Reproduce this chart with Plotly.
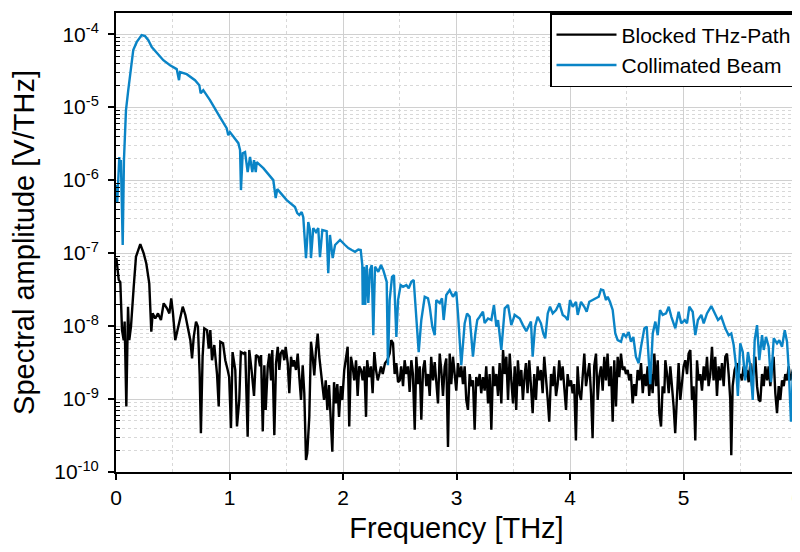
import plotly.graph_objects as go

# ---------------- data ----------------
blocked_freq = [
    0.003, 0.024, 0.038, 0.053, 0.068, 0.076, 0.091, 0.106, 0.117, 0.132,
    0.156, 0.176, 0.214, 0.244, 0.267, 0.293, 0.311, 0.323, 0.346, 0.370,
    0.396, 0.420, 0.449, 0.470, 0.487, 0.502, 0.522, 0.544, 0.567, 0.588,
    0.611, 0.634, 0.655, 0.670, 0.685, 0.705, 0.722, 0.737, 0.748, 0.763,
    0.778, 0.802, 0.817, 0.831, 0.846, 0.866, 0.890, 0.905, 0.919, 0.943,
    0.963, 0.984, 0.997, 1.013, 1.027, 1.051, 1.066, 1.086, 1.100, 1.125,
    1.139, 1.160, 1.174, 1.196, 1.216, 1.233, 1.254, 1.269, 1.278, 1.293,
    1.307, 1.319, 1.337, 1.351, 1.366, 1.377, 1.395, 1.410, 1.425, 1.439,
    1.451, 1.468, 1.483, 1.495, 1.513, 1.527, 1.542, 1.557, 1.568, 1.586,
    1.601, 1.615, 1.630, 1.645, 1.659, 1.674, 1.685, 1.703, 1.718, 1.733,
    1.747, 1.762, 1.777, 1.791, 1.806, 1.821, 1.833, 1.848, 1.862, 1.877,
    1.892, 1.906, 1.921, 1.936, 1.950, 1.965, 1.980, 1.994, 2.011, 2.026,
    2.041, 2.055, 2.070, 2.085, 2.099, 2.115, 2.129, 2.143, 2.159, 2.173,
    2.188, 2.203, 2.213, 2.231, 2.246, 2.261, 2.276, 2.291, 2.306, 2.320,
    2.335, 2.350, 2.370, 2.390, 2.411, 2.425, 2.441, 2.455, 2.470, 2.485,
    2.500, 2.513, 2.529, 2.543, 2.558, 2.573, 2.587, 2.602, 2.616, 2.632,
    2.646, 2.661, 2.676, 2.690, 2.705, 2.720, 2.734, 2.749, 2.764, 2.777,
    2.793, 2.808, 2.822, 2.837, 2.852, 2.866, 2.881, 2.896, 2.910, 2.925,
    2.940, 2.954, 2.969, 2.984, 2.998, 3.013, 3.028, 3.042, 3.057, 3.072,
    3.086, 3.101, 3.116, 3.130, 3.145, 3.160, 3.174, 3.189, 3.204, 3.218,
    3.233, 3.248, 3.262, 3.278, 3.292, 3.307, 3.322, 3.336, 3.351, 3.366,
    3.380, 3.395, 3.410, 3.425, 3.439, 3.454, 3.469, 3.483, 3.498, 3.513,
    3.526, 3.541, 3.557, 3.571, 3.585, 3.601, 3.612, 3.626, 3.641, 3.656,
    3.671, 3.685, 3.700, 3.715, 3.729, 3.744, 3.759, 3.773, 3.789, 3.804,
    3.817, 3.833, 3.848, 3.861, 3.877, 3.891, 3.905, 3.920, 3.935, 3.949,
    3.965, 3.979, 3.993, 4.009, 4.023, 4.037, 4.052, 4.067, 4.082, 4.097,
    4.112, 4.126, 4.141, 4.156, 4.170, 4.185, 4.199, 4.213, 4.229, 4.244,
    4.257, 4.273, 4.288, 4.302, 4.317, 4.331, 4.345, 4.361, 4.376, 4.390,
    4.405, 4.420, 4.434, 4.449, 4.464, 4.478, 4.493, 4.508, 4.522, 4.537,
    4.552, 4.566, 4.581, 4.596, 4.610, 4.626, 4.641, 4.655, 4.670, 4.684,
    4.698, 4.714, 4.728, 4.743, 4.758, 4.773, 4.787, 4.802, 4.816, 4.831,
    4.840, 4.855, 4.870, 4.884, 4.899, 4.913, 4.927, 4.943, 4.957, 4.972,
    4.987, 5.001, 5.016, 5.031, 5.045, 5.060, 5.075, 5.089, 5.104, 5.119,
    5.133, 5.148, 5.163, 5.178, 5.192, 5.207, 5.221, 5.236, 5.251, 5.265,
    5.280, 5.295, 5.309, 5.324, 5.339, 5.354, 5.368, 5.383, 5.398, 5.412,
    5.421, 5.433, 5.450, 5.471, 5.486, 5.500, 5.515, 5.530, 5.544, 5.559,
    5.574, 5.589, 5.604, 5.618, 5.633, 5.648, 5.663, 5.677, 5.692, 5.707,
    5.721, 5.736, 5.750, 5.765, 5.780, 5.794, 5.809, 5.824, 5.839, 5.853,
    5.868, 5.883, 5.897, 5.912, 5.927, 5.941, 5.956, 5.971, 5.985, 6.000,
]
blocked_amp = [
    8.6e-8, 4.3e-8, 4.0e-8, 8.8e-9, 6.4e-9, 1.15e-8, 7.9e-10, 1.84e-8, 6.4e-9, 9.8e-9,
    3.45e-8, 8.9e-8, 1.33e-7, 9.9e-8, 7.2e-8, 3.85e-8, 8.4e-9, 1.49e-8, 1.27e-8, 1.49e-8,
    1.21e-8, 2.05e-8, 1.75e-8, 1.49e-8, 2.4e-8, 1.49e-8, 6.4e-9, 9.3e-9, 1.27e-8, 1.84e-8,
    1.42e-8, 9.8e-9, 6.4e-9, 3.6e-9, 7.1e-9, 1.15e-8, 9.8e-9, 2.2e-9, 3.4e-10, 3.8e-9,
    9.3e-9, 8.8e-9, 4.9e-9, 8.8e-9, 3.4e-9, 5.5e-9, 2.2e-9, 7.9e-10, 6.1e-9, 5.8e-9,
    3.4e-9, 2.5e-9, 2.0e-9, 4.0e-10, 4.4e-9, 2.5e-9, 4.2e-10, 9.7e-10, 4.4e-9, 4.2e-9,
    4.4e-9, 3.05e-10, 4.7e-9, 2.35e-9, 1.1e-9, 4.0e-9, 3.8e-9, 2.8e-9, 4.0e-9, 3.6e-10,
    2.9e-9, 7.1e-10, 2.8e-9, 4.2e-9, 1.8e-9, 4.7e-9, 3.2e-10, 3.1e-9, 5.2e-9, 2.5e-9,
    4.2e-9, 4.7e-9, 3.4e-9, 5.2e-9, 3.1e-9, 1.2e-9, 3.8e-9, 2.8e-9, 3.4e-9, 2.5e-9,
    4.2e-9, 2.0e-9, 9.7e-10, 2.9e-9, 1.2e-9, 1.46e-10, 1.8e-10, 5.7e-10, 6.1e-9, 3.8e-9,
    2.1e-9, 4.7e-9, 7.9e-9, 3.8e-9, 2.2e-9, 1.3e-9, 9.7e-10, 1.8e-9, 7.1e-10, 1.55e-9,
    6.4e-10, 1.9e-10, 1.7e-9, 8.7e-10, 1.6e-9, 5.7e-10, 1.5e-9, 9.7e-10, 2.5e-9, 3.4e-9,
    5.2e-9, 4.2e-10, 3.8e-9, 2.8e-9, 1.8e-9, 3.4e-9, 1.1e-9, 2.8e-9, 2.5e-9, 1.8e-9,
    2.8e-9, 5.7e-10, 3.4e-9, 2.0e-9, 2.8e-9, 1.2e-9, 4.4e-9, 2.5e-9, 1.8e-9, 2.2e-9,
    2.8e-9, 2.2e-9, 3.1e-9, 3.4e-9, 4.2e-9, 6.4e-9, 5.8e-9, 2.2e-9, 3.1e-9, 1.7e-9,
    1.8e-9, 2.8e-9, 1.5e-9, 3.4e-9, 2.2e-9, 2.8e-9, 1.25e-9, 3.4e-9, 2.2e-9, 3.8e-10,
    3.8e-9, 1.6e-9, 2.8e-9, 5.2e-10, 2.5e-9, 3.4e-9, 1.5e-9, 2.2e-9, 1.1e-9, 3.8e-9,
    1.8e-9, 3.2e-9, 1.5e-9, 8.7e-10, 4.2e-9, 2.5e-9, 1.1e-9, 2.8e-9, 3.6e-9, 2.2e-10,
    4.2e-9, 1.6e-9, 3.8e-9, 2.0e-9, 1.3e-9, 3.1e-9, 2.0e-9, 2.8e-9, 1.6e-9, 2.8e-9,
    9.7e-10, 7.1e-10, 2.2e-9, 1.5e-9, 1.8e-9, 3.8e-10, 2.0e-9, 1.5e-9, 2.2e-9, 1.2e-9,
    2.0e-9, 1.3e-9, 2.8e-9, 8.7e-10, 2.2e-9, 3.8e-10, 2.8e-9, 1.5e-9, 2.2e-9, 1.1e-9,
    3.1e-9, 8.7e-10, 4.7e-9, 2.2e-9, 3.8e-9, 9.7e-10, 4.2e-9, 1.8e-9, 8.7e-10, 2.8e-9,
    7.1e-10, 3.4e-9, 1.5e-9, 2.5e-9, 9.7e-10, 2.2e-9, 3.1e-9, 1.2e-9, 3.4e-9, 1.5e-9,
    6.4e-10, 2.2e-9, 9.7e-10, 2.8e-9, 1.8e-9, 2.5e-9, 1.2e-9, 3.8e-9, 2.0e-9, 9.7e-10,
    4.9e-10, 2.2e-9, 1.5e-9, 2.8e-9, 1.1e-9, 1.6e-9, 3.4e-9, 1.8e-9, 2.8e-9, 1.6e-9,
    7.1e-10, 2.2e-9, 1.5e-9, 1.8e-9, 1.2e-9, 1.6e-9, 2.7e-10, 2.8e-9, 1.2e-9, 9.7e-10,
    2.0e-9, 4.2e-9, 1.5e-9, 2.2e-9, 3.1e-9, 1.2e-9, 2.9e-10, 2.8e-9, 4.2e-9, 9.7e-10,
    2.0e-9, 2.8e-9, 1.3e-9, 3.8e-9, 1.8e-9, 4.2e-9, 1.5e-9, 2.8e-9, 4.9e-10, 3.4e-9,
    7.9e-10, 3.8e-9, 2.0e-9, 4.2e-9, 2.5e-9, 2.8e-9, 2.2e-9, 2.5e-9, 1.8e-9, 2.2e-9,
    8.7e-10, 1.6e-9, 1.1e-9, 2.5e-9, 1.8e-9, 3.1e-9, 1.2e-9, 2.2e-9, 1.5e-9, 2.8e-9,
    1.1e-9, 2.2e-9, 1.2e-9, 4.2e-9, 1.5e-9, 3.4e-9, 6.4e-10, 4.2e-10, 1.5e-9, 1.2e-9,
    3.4e-9, 2.2e-9, 1.2e-9, 2.8e-9, 1.5e-9, 7.9e-10, 3.4e-10, 1.5e-9, 3.1e-9, 9.7e-10,
    1.8e-9, 2.8e-9, 3.4e-9, 2.2e-9, 4.2e-9, 4.7e-9, 9.7e-10, 1.5e-9, 2.7e-10, 3.4e-9,
    1.8e-9, 2.2e-9, 1.3e-9, 2.8e-9, 1.8e-9, 3.8e-9, 1.5e-9, 2.2e-9, 5.2e-9, 1.8e-9,
    3.8e-9, 1.1e-9, 2.8e-9, 1.8e-9, 3.1e-9, 1.5e-9, 3.8e-9, 4.2e-9, 2.2e-9, 9.7e-10,
    1.7e-10, 1.5e-9, 2.5e-9, 3.1e-9, 2.0e-9, 2.2e-9, 1.8e-9, 2.8e-9, 2.0e-9, 2.5e-9,
    1.7e-9, 3.1e-9, 1.5e-9, 2.8e-9, 3.8e-9, 1.5e-9, 9.7e-10, 9.3e-10, 2.2e-9, 1.5e-9,
    2.8e-9, 1.8e-9, 2.8e-9, 1.5e-9, 2.8e-9, 3.8e-9, 1.2e-9, 6.4e-10, 1.5e-9, 9.7e-10,
    1.8e-9, 1.5e-9, 2.2e-9, 1.8e-9, 2.8e-9, 1.8e-9, 2.2e-9, 2.8e-9, 2.0e-9, 2.5e-9,
]

beam_freq = [
    0.000, 0.011, 0.029, 0.037, 0.043, 0.059, 0.070, 0.088, 0.108, 0.130,
    0.152, 0.182, 0.226, 0.256, 0.285, 0.315, 0.359, 0.417, 0.476, 0.535,
    0.555, 0.564, 0.623, 0.696, 0.734, 0.746, 0.769, 0.828, 0.916, 0.975,
    0.989, 1.004, 1.078, 1.093, 1.101, 1.116, 1.137, 1.160, 1.181, 1.201,
    1.216, 1.231, 1.240, 1.298, 1.386, 1.407, 1.421, 1.445, 1.504, 1.577,
    1.597, 1.615, 1.636, 1.650, 1.674, 1.694, 1.709, 1.718, 1.738, 1.762,
    1.782, 1.797, 1.818, 1.856, 1.870, 1.885, 1.909, 1.930, 1.974, 2.018,
    2.047, 2.077, 2.106, 2.135, 2.156, 2.170, 2.174, 2.185, 2.196, 2.209,
    2.223, 2.238, 2.253, 2.267, 2.282, 2.311, 2.335, 2.355, 2.370, 2.385,
    2.396, 2.411, 2.432, 2.449, 2.470, 2.485, 2.508, 2.529, 2.558, 2.579,
    2.602, 2.623, 2.637, 2.667, 2.690, 2.720, 2.749, 2.764, 2.787, 2.808,
    2.822, 2.852, 2.872, 2.887, 2.910, 2.940, 2.969, 2.998, 3.013, 3.042,
    3.072, 3.093, 3.116, 3.145, 3.166, 3.183, 3.204, 3.233, 3.248, 3.278,
    3.307, 3.330, 3.351, 3.366, 3.395, 3.425, 3.454, 3.483, 3.513, 3.557,
    3.585, 3.615, 3.656, 3.671, 3.692, 3.715, 3.744, 3.765, 3.782, 3.804,
    3.824, 3.848, 3.877, 3.906, 3.936, 3.959, 3.980, 4.000, 4.024, 4.053,
    4.068, 4.097, 4.126, 4.147, 4.170, 4.200, 4.229, 4.253, 4.273, 4.293,
    4.317, 4.332, 4.352, 4.376, 4.399, 4.420, 4.449, 4.470, 4.493, 4.517,
    4.537, 4.558, 4.581, 4.605, 4.626, 4.655, 4.676, 4.693, 4.707, 4.729,
    4.752, 4.773, 4.793, 4.817, 4.846, 4.870, 4.893, 4.928, 4.957, 4.980,
    5.011, 5.031, 5.051, 5.081, 5.104, 5.127, 5.157, 5.178, 5.207, 5.245,
    5.275, 5.304, 5.333, 5.368, 5.398, 5.421, 5.442, 5.463, 5.479, 5.500,
    5.522, 5.544, 5.568, 5.589, 5.610, 5.627, 5.648, 5.668, 5.692, 5.707,
    5.727, 5.750, 5.771, 5.795, 5.824, 5.844, 5.868, 5.892, 5.912, 5.927,
    5.947, 5.965, 5.985, 6.000,
]
beam_amp = [
    8.6e-7, 5.0e-7, 2.07e-6, 1.29e-6, 1.88e-6, 1.29e-7, 1.88e-6, 9.1e-6, 1.71e-5, 3.53e-5,
    6.04e-5, 7.77e-5, 9.7e-5, 9.4e-5, 8.28e-5, 6.64e-5, 5.5e-5, 4.4e-5, 3.76e-5, 3.32e-5,
    2.34e-5, 3.02e-5, 2.83e-5, 2.34e-5, 2.0e-5, 1.55e-5, 1.71e-5, 1.25e-5, 7.3e-6, 5.16e-6,
    4.13e-6, 4.55e-6, 3.21e-6, 2.58e-6, 7.3e-7, 2.34e-6, 2.42e-6, 1.29e-6, 2.07e-6, 1.29e-6,
    1.88e-6, 1.29e-6, 1.77e-6, 1.46e-6, 1.0e-6, 5.67e-7, 7.53e-7, 6.85e-7, 5.32e-7, 4.27e-7,
    3.53e-7, 3.32e-7, 3.65e-7, 3.11e-7, 8.55e-8, 2.66e-7, 2.07e-7, 8.55e-8, 2.2e-7, 1.94e-7,
    2.2e-7, 8.8e-8, 2.07e-7, 2.0e-7, 5.3e-8, 1.77e-7, 8.55e-8, 1.29e-7, 1.51e-7, 1.29e-7,
    1.17e-7, 1.1e-7, 1.04e-7, 1.12e-7, 1.1e-7, 6.85e-8, 1.94e-8, 6.49e-8, 1.94e-8, 6.85e-8,
    2.07e-8, 5.85e-8, 6.85e-8, 7.5e-9, 6.49e-8, 5.54e-8, 6.85e-8, 5.85e-8, 5.0e-8, 4.04e-8,
    2.9e-9, 2.27e-8, 4.73e-8, 5.0e-8, 7.1e-9, 2.27e-8, 3.64e-8, 3.45e-8, 3.64e-8, 3.3e-8,
    4.04e-8, 4.27e-8, 2.07e-8, 4.4e-9, 1.21e-8, 2.52e-8, 2.4e-8, 1.84e-8, 9.8e-9, 7.5e-9,
    2.27e-8, 2.07e-8, 2.4e-8, 1.21e-8, 2.66e-8, 3.11e-8, 2.52e-8, 2.95e-8, 1.49e-8, 2.9e-9,
    1.09e-8, 1.49e-8, 1.34e-8, 3.8e-9, 7.9e-9, 1.21e-8, 1.34e-8, 1.57e-8, 1.1e-8, 1.27e-8,
    1.21e-8, 1.94e-8, 9.8e-9, 1.21e-8, 4.7e-9, 1.75e-8, 1.94e-8, 1.03e-8, 1.42e-8, 1.27e-8,
    1.03e-8, 8.5e-9, 1.15e-8, 3.8e-9, 9.8e-9, 1.34e-8, 1.09e-8, 7.9e-9, 6.8e-9, 1.49e-8,
    1.84e-8, 1.49e-8, 1.66e-8, 2.05e-8, 1.42e-8, 1.34e-8, 1.21e-8, 2.27e-8, 1.84e-8, 2.15e-8,
    1.42e-8, 2.15e-8, 1.84e-8, 1.57e-8, 2.15e-8, 2.27e-8, 2.4e-8, 2.52e-8, 3.18e-8, 3.11e-8,
    2.27e-8, 2.52e-8, 2.15e-8, 1.66e-8, 7.9e-9, 6.4e-9, 6.1e-9, 7.9e-9, 7.1e-9, 8.3e-9,
    6.1e-9, 7.1e-9, 3.8e-9, 3.1e-9, 5.2e-9, 9.3e-9, 9.8e-9, 3.8e-9, 1.6e-9, 7.9e-9,
    1.15e-8, 7.5e-9, 1.66e-8, 1.42e-8, 1.49e-8, 1.84e-8, 1.34e-8, 9.3e-9, 1.57e-8, 1.09e-8,
    1.21e-8, 1.09e-8, 1.84e-8, 1.57e-8, 7.5e-9, 1.21e-8, 1.42e-8, 1.09e-8, 1.49e-8, 1.88e-8,
    1.49e-8, 1.21e-8, 1.34e-8, 9.3e-9, 7.5e-9, 7.9e-9, 5.5e-9, 2.8e-9, 1.1e-9, 5.8e-9,
    4.4e-9, 1.8e-9, 4.4e-9, 2.8e-9, 9.7e-10, 6.4e-9, 1.03e-8, 3.4e-9, 7.5e-9, 4.7e-9,
    7.1e-9, 5.2e-9, 1.7e-9, 6.8e-9, 5.8e-9, 6.4e-9, 5.2e-9, 8.8e-9, 6.1e-9, 2.6e-9,
    4.9e-10, 2.5e-9, 6.4e-9, 7.9e-9,
]

x_tick_vals = [0, 1, 2, 3, 4, 5, 6]
x_tick_text = ["0", "1", "2", "3", "4", "5", "6"]
y_tick_vals = [1e-10, 1e-9, 1e-8, 1e-7, 1e-6, 1e-5, 1e-4]
y_tick_text = ["10<sup>-10</sup>", "10<sup>-9</sup>", "10<sup>-8</sup>", "10<sup>-7</sup>",
               "10<sup>-6</sup>", "10<sup>-5</sup>", "10<sup>-4</sup>"]

assert len(blocked_freq) == len(blocked_amp)
assert len(beam_freq) == len(beam_amp)

# minor (2..9) positions per decade – axis styling only
y_minor_vals = [m * d for d in y_tick_vals for m in range(2, 10)]

FONT = "Liberation Sans, Arial, sans-serif"

fig = go.Figure()
fig.add_trace(go.Scatter(x=blocked_freq, y=blocked_amp, mode="lines",
                         name="Blocked THz-Path",
                         line=dict(color="#000000", width=2.4)))
fig.add_trace(go.Scatter(x=beam_freq, y=beam_amp, mode="lines",
                         name="Collimated Beam",
                         line=dict(color="#0a84c6", width=2.4)))

# the page body adds an 8 px offset, so the figure is 792x544
fig.update_layout(
    width=792, height=544,
    margin=dict(l=108, r=3, t=5, b=80, autoexpand=False),
    paper_bgcolor="white", plot_bgcolor="white",
    font=dict(family=FONT, size=21, color="black"),
    showlegend=True,
    legend=dict(x=1, y=1, xanchor="right", yanchor="top",
                bgcolor="white", bordercolor="black", borderwidth=1.5,
                font=dict(family=FONT, size=21, color="black"),
                tracegroupgap=0, itemwidth=60),
)

fig.update_xaxes(
    range=[0, 6], tickmode="array", tickvals=x_tick_vals, ticktext=x_tick_text,
    ticks="outside", ticklen=6, tickwidth=1.5, tickcolor="black",
    ticklabeloverflow="allow",
    showline=True, linewidth=2, linecolor="black", mirror=True,
    showgrid=True, gridcolor="#d0d0d0", gridwidth=1, zeroline=False,
    automargin=False,
    minor=dict(dtick=0.5, tick0=0, showgrid=True, gridcolor="#d8d8d8",
               griddash="dot", gridwidth=1, ticks=""),
    title=dict(text="Frequency [THz]", font=dict(family=FONT, size=29), standoff=9),
    tickfont=dict(family=FONT, size=21),
)

fig.update_yaxes(
    type="log", range=[-10, -3.71], tickmode="array",
    tickvals=y_tick_vals, ticktext=y_tick_text,
    ticks="outside", ticklen=6, tickwidth=1.5, tickcolor="black",
    ticklabelstandoff=5,
    showline=True, linewidth=2, linecolor="black", mirror=True,
    showgrid=True, gridcolor="#d0d0d0", gridwidth=1, zeroline=False,
    automargin=False,
    minor=dict(tickmode="array", tickvals=y_minor_vals, showgrid=True,
               gridcolor="#d8d8d8", griddash="dot", gridwidth=1,
               ticks="inside", ticklen=4, tickwidth=1, tickcolor="black"),
    title=dict(text="Spectral amplitude [V/THz]", font=dict(family=FONT, size=29), standoff=14),
    tickfont=dict(family=FONT, size=21),
)

fig.write_html("out.html")
